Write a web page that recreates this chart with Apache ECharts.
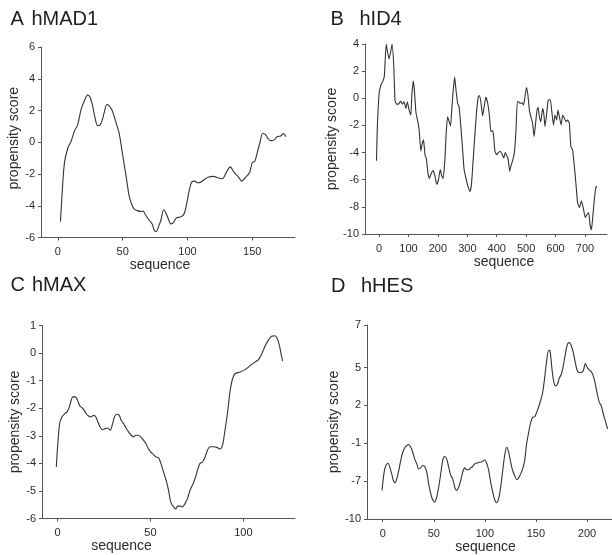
<!DOCTYPE html>
<html>
<head>
<meta charset="utf-8">
<script src="https://cdn.jsdelivr.net/npm/echarts@6/dist/echarts.min.js"></script>
<style>
  html, body { margin: 0; padding: 0; background: #fff; }
  #chart { width: 612px; height: 555px; }
</style>
</head>
<body>
<div id="chart"></div>
<script>
// Panel A: hMAD1 propensity profile
const madSeq = [2, 3.3, 5.1, 7.7, 10.2, 12.8, 15.3, 17.9, 20.4, 23, 24.7, 26.8, 28.8, 30.6, 32.4, 34.4, 35.7, 37.8, 39.5, 41.6, 43.4, 45.4, 47.2, 49, 51, 53.1, 54.8, 56.6, 58.7, 61.2, 63.8, 65.8, 67.6, 70.2, 72.7, 74.5, 76, 77.8, 79.6, 81.6, 83.4, 85.5, 87.2, 89.3, 91.3, 93.6, 95.7, 97.7, 99.5, 101.5, 103.3, 105.5, 108, 110.5, 113, 116, 120, 124, 127, 130, 133, 136, 139, 142, 145, 148, 150, 152, 154, 156, 158, 160, 162, 164, 167, 169, 172, 174, 176];
const madScore = [-5.0, -3.2, -1.3, -0.36, 0.06, 0.7, 1.1, 2.06, 2.6, 2.97, 2.86, 2.3, 1.5, 1.05, 1.07, 1.43, 1.85, 2.38, 2.3, 2.06, 1.64, 1.1, 0.6, -0.25, -1.3, -2.36, -3.3, -3.83, -4.2, -4.3, -4.36, -4.34, -4.57, -4.88, -5.14, -5.56, -5.62, -5.3, -4.88, -4.25, -4.46, -4.88, -5.14, -5.05, -4.78, -4.72, -4.67, -4.46, -3.83, -2.99, -2.5, -2.45, -2.55, -2.5, -2.35, -2.2, -2.15, -2.25, -2.3, -1.9, -1.55, -1.9, -2.15, -2.45, -2.2, -1.9, -1.3, -1.2, -0.6, 0.0, 0.55, 0.5, 0.25, 0.1, 0.15, 0.35, 0.4, 0.55, 0.35];
const madXTicks = [0, 50, 100, 150];

// Panel B: hID4 propensity profile
const idSeq = [-9, -6, 0, 6, 14, 18, 24, 28, 34, 40, 44, 50, 54, 59, 66, 73, 79, 85, 91, 96, 102, 108, 111, 116, 120, 125, 131, 136, 142, 145, 151, 156, 161, 166, 171, 178, 184, 190, 196, 202, 208, 213, 218, 224, 228, 233, 238, 243, 247, 252, 257, 261, 267, 272, 278, 284, 289, 295, 302, 309, 314, 320, 326, 331, 337, 341, 346, 352, 358, 363, 369, 375, 380, 385, 389, 394, 400, 406, 412, 418, 424, 429, 435, 439, 444, 448, 454, 460, 465, 470, 474, 480, 486, 491, 496, 501, 506, 511, 516, 522, 527, 531, 537, 541, 545, 550, 556, 560, 564, 570, 575, 582, 588, 593, 598, 604, 608, 613, 619, 624, 630, 636, 641, 647, 652, 658, 664, 670, 675, 681, 688, 695, 701, 708, 713, 717, 722, 726, 732, 738, 740];
const idScore = [-4.6, -2.1, 0.35, 0.96, 1.32, 1.69, 4.0, 3.5, 2.9, 3.5, 4.0, 2.3, -0.14, -0.43, -0.43, -0.2, -0.43, -0.26, -0.75, -0.26, -0.87, -1.23, 0.1, 1.27, 0.6, -1.0, -1.65, -2.33, -3.9, -3.5, -3.06, -4.16, -4.5, -5.5, -5.9, -5.5, -5.33, -5.74, -6.35, -6.0, -5.25, -5.74, -5.9, -4.4, -2.57, -1.36, -1.72, -2.04, -0.87, 0.59, 1.57, 0.7, -0.38, -0.63, -2.09, -3.8, -5.25, -5.86, -6.47, -6.86, -6.35, -4.5, -2.57, -1.11, 0.1, 0.2, -0.26, -1.3, -0.5, 0.1, -0.33, -1.23, -2.45, -2.38, -2.7, -3.9, -4.16, -4.0, -3.9, -4.1, -4.4, -4.0, -4.28, -4.5, -5.4, -5.0, -4.6, -4.0, -2.57, -0.26, -0.26, -0.38, -0.33, -0.5, 0.1, 0.8, 0.24, -0.87, -1.36, -1.84, -2.82, -2.09, -0.87, -0.67, -1.36, -1.72, -0.75, -1.1, -2.09, -1.1, -0.14, -0.09, -1.11, -1.97, -1.23, -1.6, -0.87, -1.36, -1.97, -1.23, -1.48, -1.72, -1.6, -1.84, -3.55, -3.8, -5.0, -6.47, -7.69, -8.05, -7.57, -8.17, -8.78, -8.54, -8.42, -9.27, -9.68, -8.9, -7.44, -6.47, -6.6];
const idXTicks = [0, 100, 200, 300, 400, 500, 600, 700];

// Panel C: hMAX propensity profile
const maxSeq = [-0.7, 0, 1.1, 2.3, 3.8, 5, 6.3, 7.3, 8.2, 9.5, 10.8, 11.8, 13.1, 14.3, 15.4, 16.7, 17.9, 19.4, 20.6, 21.7, 22.9, 24.2, 25.6, 26.9, 28.3, 29.6, 30.6, 31.9, 33.2, 34.2, 35.5, 36.7, 38.2, 39.6, 40.9, 42.1, 43.5, 44.8, 46.2, 47.5, 48.9, 50.2, 51.6, 52.9, 54.3, 55.6, 57, 58.4, 59.7, 60.9, 62.4, 63.6, 64.7, 66, 67.2, 68.6, 69.9, 71.3, 72.6, 74, 75.3, 76.7, 78, 79.4, 80.6, 82.1, 83.9, 85.7, 87.5, 88.9, 90.1, 91.6, 92.8, 94.1, 95.5, 98.2, 100.9, 102.7, 104.5, 106.3, 108.1, 109.9, 111.6, 113.4, 115.2, 117, 118.3, 119.4, 120.3, 121.1];
const maxScore = [-4.13, -3.4, -2.56, -2.32, -2.2, -2.14, -1.96, -1.72, -1.59, -1.59, -1.72, -1.9, -1.98, -2.08, -2.2, -2.28, -2.32, -2.26, -2.32, -2.5, -2.68, -2.78, -2.74, -2.72, -2.8, -2.56, -2.32, -2.22, -2.26, -2.44, -2.56, -2.7, -2.86, -2.98, -3.04, -2.98, -2.98, -3.04, -3.16, -3.28, -3.47, -3.59, -3.68, -3.77, -3.79, -4.0, -4.31, -4.61, -4.97, -5.4, -5.58, -5.65, -5.55, -5.55, -5.58, -5.46, -5.28, -4.97, -4.79, -4.55, -4.25, -4.0, -3.95, -3.77, -3.53, -3.4, -3.4, -3.42, -3.48, -3.3, -2.8, -2.1, -1.4, -0.95, -0.75, -0.69, -0.6, -0.51, -0.41, -0.33, -0.24, -0.03, 0.24, 0.46, 0.61, 0.63, 0.52, 0.28, -0.03, -0.29];
const maxXTicks = [0, 50, 100];

// Panel D: hHES propensity profile
const hesSeq = [-0.7, 0.7, 2, 3.6, 5.2, 6.9, 8.8, 10.4, 12.1, 13.7, 15.7, 17.6, 19.6, 21.5, 23.5, 25.4, 27.4, 29.4, 31.3, 33.3, 35.2, 37.2, 39.2, 41.1, 43.1, 45, 47, 48.9, 50.9, 52.9, 54.8, 56.8, 58.7, 60.7, 62.6, 64.6, 66.6, 68.5, 70.5, 72.4, 74.4, 76.3, 78.3, 80.3, 82.2, 84.2, 86.1, 88.1, 90, 92, 94, 95.9, 97.9, 99.8, 101.8, 103.8, 105.7, 107.7, 109.6, 111.6, 113.5, 115.5, 117.5, 119.4, 121.4, 123.3, 125.3, 127.2, 129.2, 131.2, 133.1, 135.1, 137, 139, 140.9, 142.9, 144.9, 146.8, 148.8, 150.7, 152.7, 154.6, 156.6, 158.6, 160.5, 162.5, 163.8, 165.4, 167, 169, 171, 172.9, 174.9, 176.8, 178.8, 180.8, 182.7, 184.7, 186.6, 188.6, 190.5, 192.5, 194.5, 196.4, 198.4, 200.3, 202.3, 204.2, 206.2, 208.2, 210.1, 212.1, 214, 216, 217.9, 220.2];
const hesScore = [-4.74, -3.68, -3.03, -2.68, -2.58, -2.89, -3.42, -3.95, -4.13, -3.82, -3.16, -2.37, -1.71, -1.37, -1.18, -1.1, -1.32, -1.71, -2.24, -2.63, -3.03, -2.95, -2.76, -2.84, -3.29, -4.21, -5.0, -5.47, -5.66, -5.26, -4.47, -3.42, -2.37, -2.05, -2.24, -2.89, -3.55, -3.82, -4.47, -4.74, -4.47, -3.95, -3.29, -2.95, -3.1, -3.1, -2.95, -2.84, -2.63, -2.58, -2.5, -2.5, -2.42, -2.32, -2.58, -3.16, -4.08, -4.87, -5.47, -5.71, -5.39, -4.47, -3.16, -1.97, -1.32, -1.71, -2.5, -3.16, -3.55, -3.89, -3.74, -3.42, -3.03, -2.37, -1.05, -0.13, 0.66, 1.05, 1.1, 1.45, 1.89, 2.37, 3.03, 4.21, 5.53, 6.37, 6.32, 5.13, 4.08, 3.55, 3.68, 4.16, 4.47, 5.13, 6.05, 6.84, 6.97, 6.71, 6.18, 5.39, 4.74, 4.61, 4.61, 4.74, 5.32, 5.0, 4.79, 4.68, 4.34, 3.68, 2.89, 2.24, 1.97, 1.32, 0.79, 0.13];
const hesXTicks = [0, 50, 100, 150, 200];
// tick positions on the score scale and the text printed at each of them
const hesYTicks = [-7, -4, -1, 2, 5, 8.37];
const hesYTickText = ['-10', '-7', '-1', '2', '5', '7'];

const FONT = 'Liberation Sans, Arial, Helvetica, sans-serif';
const INK = '#2b2b2b';
const AXIS = '#555';

function pairs(xs, ys) { return xs.map((x, i) => [x, ys[i]]); }

function xAxisCfg(idx, min, max, ticks, gap, shift) {
  const pad = shift < 0 ? [0, -2 * shift, 0, 0] : [0, 0, 0, 2 * shift];
  return {
    type: 'value', gridIndex: idx, min: min, max: max,
    name: 'sequence', nameLocation: 'middle', nameGap: gap,
    nameTextStyle: { fontFamily: FONT, fontSize: 14, color: INK, padding: pad },
    axisLine: { show: true, onZero: false, lineStyle: { color: AXIS, width: 1 } },
    axisTick: { show: true, length: 3, lineStyle: { color: AXIS }, customValues: ticks },
    axisLabel: { fontFamily: FONT, fontSize: 11, color: INK, margin: 9, customValues: ticks },
    splitLine: { show: false }
  };
}

function yAxisCfg(idx, min, max, interval, gap, extra) {
  const cfg = {
    type: 'value', gridIndex: idx, min: min, max: max, interval: interval,
    name: 'propensity score', nameLocation: 'middle', nameGap: gap, nameRotate: 90,
    nameTextStyle: { fontFamily: FONT, fontSize: 14, color: INK },
    axisLine: { show: true, onZero: false, lineStyle: { color: AXIS, width: 1 } },
    axisTick: { show: true, length: 3, lineStyle: { color: AXIS } },
    axisLabel: { fontFamily: FONT, fontSize: 11, color: INK, margin: 6 },
    splitLine: { show: false }
  };
  if (extra) extra(cfg);
  return cfg;
}

function lineSeries(idx, data, smooth) {
  return {
    type: 'line', xAxisIndex: idx, yAxisIndex: idx, data: data,
    showSymbol: false, smooth: smooth, animation: false,
    lineStyle: { color: '#333', width: 1.1 }
  };
}

function heading(text, left, top) {
  return {
    text: text, left: left, top: top, padding: 0,
    textStyle: { fontFamily: FONT, fontSize: 20, fontWeight: 'normal', color: '#1e1e1e' }
  };
}

const chart = echarts.init(document.getElementById('chart'), null, { renderer: 'canvas' });
chart.setOption({
  backgroundColor: '#fff',
  animation: false,
  title: [
    heading('A', 10.5, 9), heading('hMAD1', 31.5, 9),
    heading('B', 330.5, 9), heading('hID4', 359.5, 9),
    heading('C', 10.5, 275), heading('hMAX', 32, 275),
    heading('D', 331, 276), heading('hHES', 361, 276)
  ],
  grid: [
    { left: 41, top: 47, width: 254, height: 190.5 },
    { left: 365, top: 44, width: 242, height: 190 },
    { left: 42, top: 325.5, width: 253, height: 193 },
    { left: 367, top: 325, width: 245, height: 194 }
  ],
  xAxis: [
    xAxisCfg(0, -13, 183, madXTicks, 21, -8),
    xAxisCfg(1, -48, 775, idXTicks, 21, 18),
    xAxisCfg(2, -8.4, 127.8, maxXTicks, 20.5, -47),
    xAxisCfg(3, -15.4, 224.5, hesXTicks, 20, -4)
  ],
  yAxis: [
    yAxisCfg(0, -6, 6, 2, 15.5, c => { c.nameTextStyle.padding = [0, 0, 0, 8]; }),
    yAxisCfg(1, -10, 4, 2, 14),
    yAxisCfg(2, -6, 1, 1, 15.5),
    yAxisCfg(3, -7, 8.37, null, 13.5, c => {
      delete c.interval;
      c.axisTick.customValues = hesYTicks;
      c.axisLabel.customValues = hesYTicks;
      c.axisLabel.formatter = v => {
        const i = hesYTicks.findIndex(t => Math.abs(t - v) < 1e-6);
        return i >= 0 ? hesYTickText[i] : '';
      };
    })
  ],
  series: [
    lineSeries(0, pairs(madSeq, madScore), 0.3),
    lineSeries(1, pairs(idSeq, idScore), 0.15),
    lineSeries(2, pairs(maxSeq, maxScore), 0.3),
    lineSeries(3, pairs(hesSeq, hesScore), 0.3)
  ]
});
</script>
</body>
</html>
